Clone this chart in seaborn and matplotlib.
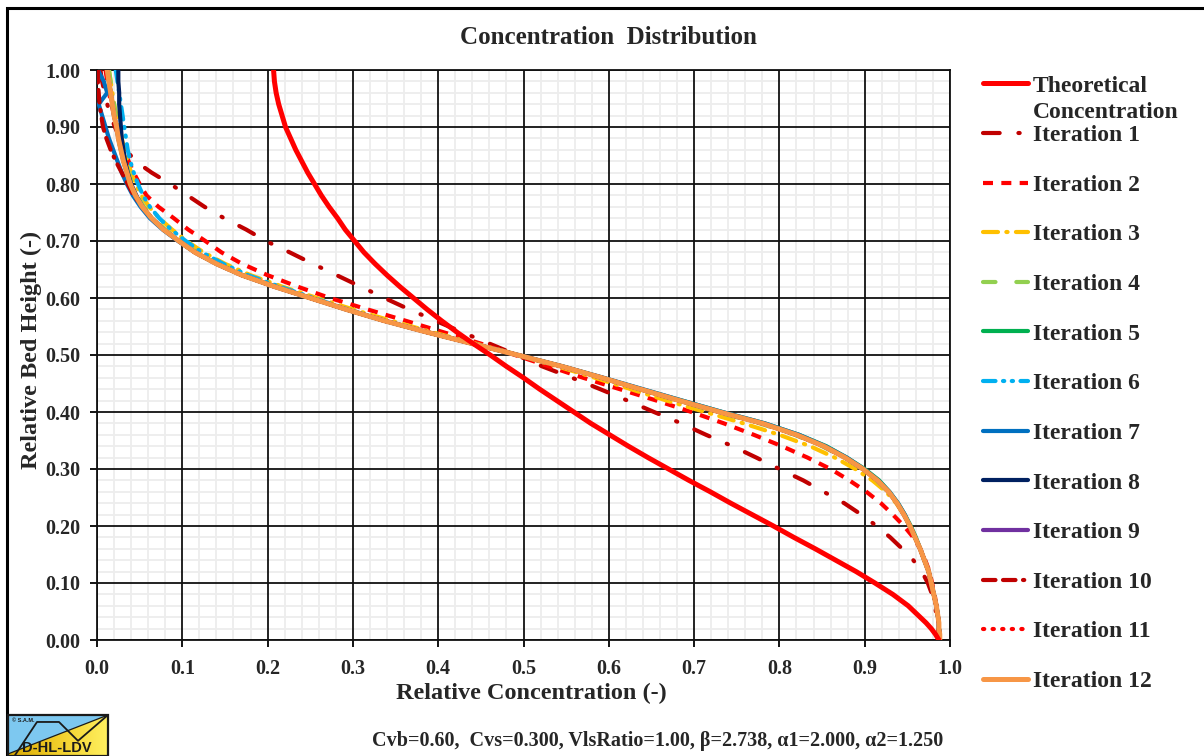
import numpy as np
import pandas as pd
import matplotlib
matplotlib.use("Agg")
import matplotlib.pyplot as plt
import seaborn as sns
from matplotlib.patches import Rectangle, Polygon
from matplotlib.ticker import MultipleLocator, FormatStrFormatter
from matplotlib.colors import LinearSegmentedColormap

# ---------------- data ----------------
bed_height = [1.00, 0.98, 0.96, 0.94, 0.92, 0.90, 0.88, 0.86, 0.84, 0.82,
              0.80, 0.78, 0.76, 0.74, 0.72, 0.70, 0.68, 0.66, 0.64, 0.62,
              0.60, 0.58, 0.56, 0.54, 0.52, 0.50, 0.48, 0.46, 0.44, 0.42,
              0.40, 0.38, 0.36, 0.34, 0.32, 0.30, 0.28, 0.26, 0.24, 0.22,
              0.20, 0.18, 0.16, 0.14, 0.12, 0.10, 0.08, 0.06, 0.04, 0.03,
              0.02, 0.01, 0.00]

theoretical = [0.207, 0.208, 0.210, 0.213, 0.217, 0.221, 0.227, 0.233, 0.240, 0.247,
               0.255, 0.263, 0.272, 0.282, 0.291, 0.302, 0.313, 0.326, 0.340, 0.355,
               0.371, 0.387, 0.404, 0.422, 0.441, 0.461, 0.480, 0.500, 0.519, 0.539,
               0.559, 0.579, 0.601, 0.623, 0.646, 0.670, 0.694, 0.719, 0.743, 0.768,
               0.793, 0.817, 0.842, 0.866, 0.890, 0.912, 0.933, 0.951, 0.965, 0.972,
               0.978, 0.983, 0.987]

iteration_1 = [0.004, 0.006, 0.009, 0.012, 0.016, 0.021, 0.027, 0.034, 0.045, 0.064,
               0.086, 0.106, 0.126, 0.149, 0.175, 0.198, 0.226, 0.253, 0.281, 0.309,
               0.337, 0.366, 0.397, 0.428, 0.460, 0.492, 0.522, 0.557, 0.590, 0.622,
               0.653, 0.685, 0.714, 0.745, 0.773, 0.800, 0.828, 0.852, 0.876, 0.896,
               0.914, 0.930, 0.944, 0.957, 0.967, 0.974, 0.979, 0.982, 0.985, 0.986,
               0.986, 0.987, 0.987]

iteration_2 = [0.010, 0.012, 0.014, 0.017, 0.020, 0.024, 0.028, 0.032, 0.037, 0.043,
               0.050, 0.058, 0.072, 0.090, 0.107, 0.127, 0.146, 0.170, 0.200, 0.235,
               0.273, 0.317, 0.362, 0.406, 0.450, 0.490, 0.530, 0.570, 0.613, 0.656,
               0.697, 0.735, 0.770, 0.803, 0.833, 0.860, 0.882, 0.902, 0.919, 0.933,
               0.946, 0.957, 0.965, 0.971, 0.976, 0.979, 0.982, 0.984, 0.986, 0.987,
               0.987, 0.988, 0.988]

iteration_3 = [0.014, 0.016, 0.018, 0.020, 0.023, 0.026, 0.029, 0.032, 0.036, 0.040,
               0.045, 0.052, 0.061, 0.073, 0.088, 0.105, 0.125, 0.150, 0.180, 0.217,
               0.258, 0.300, 0.345, 0.393, 0.444, 0.494, 0.540, 0.584, 0.626, 0.668,
               0.713, 0.758, 0.800, 0.836, 0.865, 0.889, 0.909, 0.925, 0.937, 0.946,
               0.953, 0.959, 0.965, 0.970, 0.975, 0.978, 0.981, 0.984, 0.986, 0.987,
               0.987, 0.988, 0.988]

iteration_4 = [0.014, 0.016, 0.018, 0.020, 0.022, 0.025, 0.027, 0.030, 0.033, 0.037,
               0.041, 0.047, 0.055, 0.066, 0.080, 0.098, 0.117, 0.142, 0.172, 0.210,
               0.250, 0.292, 0.337, 0.387, 0.440, 0.493, 0.545, 0.591, 0.636, 0.681,
               0.727, 0.777, 0.818, 0.850, 0.876, 0.897, 0.914, 0.927, 0.938, 0.946,
               0.953, 0.959, 0.965, 0.970, 0.975, 0.978, 0.981, 0.984, 0.986, 0.987,
               0.987, 0.988, 0.988]

iteration_5 = [0.012, 0.014, 0.016, 0.018, 0.020, 0.023, 0.025, 0.028, 0.031, 0.035,
               0.039, 0.045, 0.053, 0.064, 0.078, 0.096, 0.115, 0.140, 0.170, 0.208,
               0.250, 0.292, 0.337, 0.387, 0.440, 0.493, 0.546, 0.593, 0.639, 0.686,
               0.733, 0.783, 0.823, 0.855, 0.879, 0.900, 0.917, 0.929, 0.939, 0.947,
               0.954, 0.960, 0.965, 0.970, 0.975, 0.978, 0.981, 0.984, 0.986, 0.987,
               0.987, 0.988, 0.988]

iteration_6 = [0.022, 0.024, 0.026, 0.028, 0.030, 0.032, 0.034, 0.036, 0.039, 0.043,
               0.048, 0.054, 0.062, 0.073, 0.087, 0.104, 0.123, 0.148, 0.177, 0.214,
               0.254, 0.294, 0.338, 0.387, 0.440, 0.493, 0.545, 0.592, 0.637, 0.683,
               0.730, 0.780, 0.820, 0.852, 0.877, 0.898, 0.915, 0.928, 0.938, 0.946,
               0.953, 0.959, 0.965, 0.970, 0.975, 0.978, 0.981, 0.984, 0.986, 0.987,
               0.987, 0.988, 0.988]

iteration_7 = [0.001, 0.008, 0.012, 0.002, 0.006, 0.010, 0.014, 0.019, 0.024, 0.029,
               0.035, 0.042, 0.051, 0.062, 0.077, 0.095, 0.115, 0.140, 0.170, 0.208,
               0.250, 0.292, 0.337, 0.387, 0.440, 0.494, 0.546, 0.594, 0.640, 0.686,
               0.733, 0.783, 0.823, 0.854, 0.879, 0.899, 0.916, 0.929, 0.939, 0.947,
               0.953, 0.959, 0.965, 0.970, 0.975, 0.978, 0.981, 0.984, 0.986, 0.987,
               0.987, 0.988, 0.988]

iteration_8 = [0.025, 0.025, 0.026, 0.026, 0.027, 0.028, 0.029, 0.031, 0.033, 0.036,
               0.040, 0.046, 0.053, 0.064, 0.078, 0.096, 0.115, 0.140, 0.170, 0.208,
               0.250, 0.292, 0.337, 0.387, 0.440, 0.493, 0.545, 0.592, 0.637, 0.683,
               0.730, 0.780, 0.820, 0.852, 0.877, 0.898, 0.915, 0.928, 0.938, 0.946,
               0.953, 0.959, 0.965, 0.970, 0.975, 0.978, 0.981, 0.984, 0.986, 0.987,
               0.987, 0.988, 0.988]

iteration_9 = [0.012, 0.014, 0.016, 0.018, 0.020, 0.023, 0.025, 0.028, 0.031, 0.035,
               0.039, 0.045, 0.053, 0.064, 0.078, 0.096, 0.115, 0.140, 0.170, 0.208,
               0.250, 0.292, 0.337, 0.387, 0.440, 0.493, 0.545, 0.592, 0.637, 0.683,
               0.730, 0.780, 0.820, 0.852, 0.877, 0.898, 0.915, 0.928, 0.938, 0.946,
               0.953, 0.959, 0.965, 0.970, 0.975, 0.978, 0.981, 0.984, 0.986, 0.987,
               0.987, 0.988, 0.988]

iteration_10 = [0.001, 0.001, 0.002, 0.003, 0.005, 0.007, 0.011, 0.016, 0.022, 0.029,
                0.036, 0.043, 0.053, 0.064, 0.078, 0.096, 0.115, 0.140, 0.170, 0.208,
                0.250, 0.292, 0.337, 0.387, 0.440, 0.493, 0.545, 0.592, 0.637, 0.683,
                0.730, 0.780, 0.820, 0.852, 0.877, 0.898, 0.915, 0.928, 0.938, 0.946,
                0.953, 0.959, 0.965, 0.970, 0.975, 0.978, 0.981, 0.984, 0.986, 0.987,
                0.987, 0.988, 0.988]

iteration_11 = [0.012, 0.014, 0.016, 0.018, 0.020, 0.023, 0.025, 0.028, 0.031, 0.035,
                0.039, 0.045, 0.053, 0.064, 0.078, 0.096, 0.115, 0.140, 0.170, 0.208,
                0.250, 0.292, 0.337, 0.387, 0.440, 0.493, 0.545, 0.592, 0.637, 0.683,
                0.730, 0.780, 0.820, 0.852, 0.877, 0.898, 0.915, 0.928, 0.938, 0.946,
                0.953, 0.959, 0.965, 0.970, 0.975, 0.978, 0.981, 0.984, 0.986, 0.987,
                0.987, 0.988, 0.988]

iteration_12 = [0.012, 0.014, 0.016, 0.018, 0.020, 0.023, 0.025, 0.028, 0.031, 0.035,
                0.039, 0.045, 0.053, 0.064, 0.078, 0.096, 0.115, 0.140, 0.170, 0.208,
                0.250, 0.292, 0.337, 0.387, 0.440, 0.493, 0.545, 0.592, 0.637, 0.683,
                0.730, 0.780, 0.820, 0.852, 0.877, 0.898, 0.915, 0.928, 0.938, 0.946,
                0.953, 0.959, 0.965, 0.970, 0.975, 0.978, 0.981, 0.984, 0.986, 0.987,
                0.987, 0.988, 0.988]

series_names = ["Theoretical", "Iteration 1", "Iteration 2", "Iteration 3",
                "Iteration 4", "Iteration 5", "Iteration 6", "Iteration 7",
                "Iteration 8", "Iteration 9", "Iteration 10", "Iteration 11",
                "Iteration 12"]
series_values = [theoretical, iteration_1, iteration_2, iteration_3, iteration_4,
                 iteration_5, iteration_6, iteration_7, iteration_8, iteration_9,
                 iteration_10, iteration_11, iteration_12]

x_ticks = [0.0, 0.1, 0.2, 0.3, 0.4, 0.5, 0.6, 0.7, 0.8, 0.9, 1.0]
y_ticks = [0.00, 0.10, 0.20, 0.30, 0.40, 0.50, 0.60, 0.70, 0.80, 0.90, 1.00]

title_text = "Concentration  Distribution"
x_label = "Relative Concentration (-)"
y_label = "Relative Bed Height (-)"
footer_text = "Cvb=0.60,  Cvs=0.300, VlsRatio=1.00, \u03b2=2.738, \u03b11=2.000, \u03b12=1.250"

# ---------------- styles ----------------
styles = {
    "Theoretical":  dict(color="#FF0000", lw=3.6, ls="-", cap="round"),
    "Iteration 1":  dict(color="#C00000", lw=3.0, ls=(0, (4.0, 4.5, 0.3, 4.5)), cap="round"),
    "Iteration 2":  dict(color="#FF0000", lw=3.0, ls=(0, (2.4, 2.0)), cap="butt"),
    "Iteration 3":  dict(color="#FFC000", lw=3.0, ls=(0, (3.6, 2.0, 0.3, 2.0)), cap="round"),
    "Iteration 4":  dict(color="#92D050", lw=3.0, ls=(0, (3.0, 5.0)), cap="round"),
    "Iteration 5":  dict(color="#00B050", lw=3.0, ls="-", cap="round"),
    "Iteration 6":  dict(color="#00B0F0", lw=3.0, ls=(0, (3.0, 1.8, 0.3, 1.8, 0.3, 1.8)), cap="round"),
    "Iteration 7":  dict(color="#0070C0", lw=3.0, ls="-", cap="round"),
    "Iteration 8":  dict(color="#002060", lw=3.0, ls="-", cap="round"),
    "Iteration 9":  dict(color="#7030A0", lw=3.0, ls="-", cap="round"),
    "Iteration 10": dict(color="#C00000", lw=3.0, ls=(0, (3.0, 1.8, 3.0, 1.8, 0.3, 1.8)), cap="round"),
    "Iteration 11": dict(color="#FF0000", lw=3.0, ls=(0, (0.3, 2.0)), cap="round"),
    "Iteration 12": dict(color="#F79646", lw=3.6, ls="-", cap="round"),
}

sns.set_style("white")
plt.rcParams["font.family"] = ["Liberation Serif", "DejaVu Serif"]
plt.rcParams["font.weight"] = "bold"

W, H = 1204, 756
fig = plt.figure(figsize=(W / 100, H / 100), dpi=100)
rect = [97 / W, 1 - 640 / H, (950 - 97) / W, (640 - 70) / H]

# background axes: light minor grid only
bg = fig.add_axes(rect, zorder=0)
bg.set_xlim(0, 1.0)
bg.set_ylim(0, 1.0)
bg.set_xticks(x_ticks)
bg.set_yticks(y_ticks)
bg.xaxis.set_minor_locator(MultipleLocator(0.02))
bg.yaxis.set_minor_locator(MultipleLocator(0.02))
bg.grid(which="minor", color="#EDEDED", lw=1.3)
bg.grid(which="major", visible=False)
bg.tick_params(which="both", length=0, labelbottom=False, labelleft=False)
for sp in bg.spines.values():
    sp.set_visible(False)

# main axes
ax = fig.add_axes(rect, zorder=1)
ax.patch.set_visible(False)
ax.set_xticks(x_ticks)
ax.set_yticks(y_ticks)
ax.grid(which="major", color="#111111", lw=1.3)
ax.set_axisbelow(True)

order = series_names[1:] + [series_names[0]]
for k, name in enumerate(order):
    vals = series_values[series_names.index(name)]
    df = pd.DataFrame({"bed_height": bed_height, "concentration": vals})
    st = styles[name]
    sns.lineplot(data=df, x="concentration", y="bed_height", sort=False,
                 estimator=None, orient="y", ax=ax, color=st["color"],
                 linewidth=st["lw"], linestyle=st["ls"],
                 dash_capstyle=st["cap"], solid_capstyle="round",
                 solid_joinstyle="round",
                 label=name, legend=False, zorder=3 + k)

ax.set_xlim(0, 1.0)
ax.set_ylim(0, 1.0)
ax.xaxis.set_major_formatter(FormatStrFormatter("%.1f"))
ax.yaxis.set_major_formatter(FormatStrFormatter("%.2f"))
ax.tick_params(which="major", direction="out", length=5, width=1.3, color="black",
               labelsize=14.5, left=True, bottom=True)
ax.tick_params(axis="y", pad=7)
ax.tick_params(axis="x", pad=9)
for lab in ax.get_xticklabels() + ax.get_yticklabels():
    lab.set_fontweight("bold")
for sp in ax.spines.values():
    sp.set_color("#111111")
    sp.set_linewidth(1.3)
ax.set_xlabel("")
ax.set_ylabel("")

# texts
fig.text(608 / W, 1 - 37 / H, title_text, ha="center", va="center",
         fontsize=18, fontweight="bold")
fig.text(531 / W, 1 - 693 / H, x_label, ha="center", va="center",
         fontsize=17.5, fontweight="bold")
fig.text(31 / W, 1 - 350 / H, y_label, ha="center", va="center", rotation=90,
         fontsize=17.5, fontweight="bold")
fig.text(658 / W, 1 - 741 / H, footer_text, ha="center", va="center",
         fontsize=14.5, fontweight="bold")

# legend
handle_map = {ln.get_label(): ln for ln in ax.get_lines()}
handles = [handle_map[n] for n in series_names]
leg = fig.legend(handles, series_names, loc="upper left",
                 bbox_to_anchor=(983 / W, 1 - 75 / H), frameon=False,
                 fontsize=17, handlelength=1.9, handletextpad=0.2,
                 labelspacing=1.19, borderpad=0, borderaxespad=0)
for t in leg.get_texts():
    t.set_fontweight("bold")

fig.canvas.draw()
renderer = fig.canvas.get_renderer()
bb = leg.get_texts()[0].get_window_extent(renderer)
inv = fig.transFigure.inverted()
x0, yc = inv.transform((bb.x0, (bb.y0 + bb.y1) / 2 - 26))
fig.text(x0, yc, "Concentration", ha="left", va="center", fontsize=17,
         fontweight="bold")

# outer frame
fig.patches.append(Rectangle((6.5 / W, -0.2), 1.2, 1.2 - 7.5 / H,
                             transform=fig.transFigure, fill=False,
                             edgecolor="black", lw=2.2, clip_on=False))

# logo
lax = fig.add_axes([8 / W, 0, 100 / W, 41 / H], zorder=5)
lax.set_xlim(0, 1)
lax.set_ylim(0, 1)
lax.axis("off")
grad = np.linspace(0, 1, 256).reshape(1, -1)
ycmap = LinearSegmentedColormap.from_list("y", ["#D9A800", "#F2CF2A", "#FFF060"])
lax.imshow(grad, extent=(0, 1, 0, 1), aspect="auto", cmap=ycmap, zorder=1)
lax.add_patch(Polygon([(0, 0.05), (0, 1), (1, 1)], closed=True,
                      facecolor="#7DC8F0", edgecolor="none", zorder=2))
lax.plot([0, 1], [0.05, 1], color="#1a1a1a", lw=0.9, zorder=3)
lax.plot([0.07, 0.29, 0.51, 0.70, 0.99], [0.02, 0.83, 0.83, 0.37, 0.98],
         color="#1a1a1a", lw=1.3, zorder=4)
lax.add_patch(Rectangle((0, 0), 1, 1, fill=False, edgecolor="#1a1a1a", lw=1.6,
                        zorder=5, clip_on=False))
lax.text(0.49, 0.2, "D-HL-LDV", ha="center", va="center", fontsize=10.5,
         fontweight="bold", family="Liberation Sans", color="#1a1a1a", zorder=6)
lax.text(0.04, 0.86, "\u00a9 S.A.M.", ha="left", va="center", fontsize=4,
         fontweight="bold", family="Liberation Sans", color="#1a1a1a", zorder=6)

fig.savefig("out.png", dpi=100)
